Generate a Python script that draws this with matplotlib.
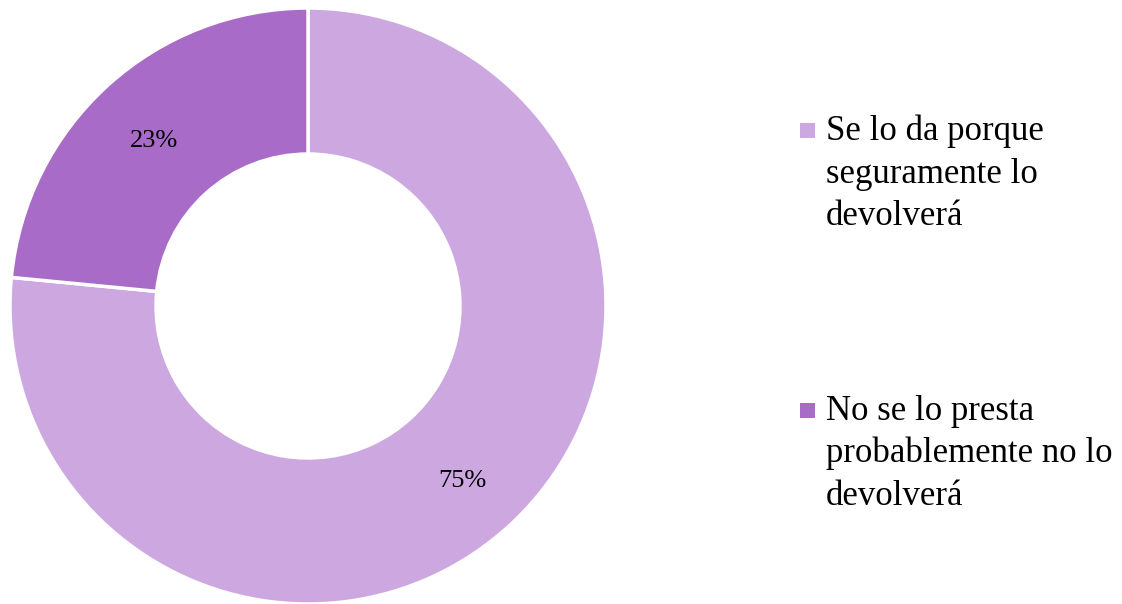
import matplotlib
matplotlib.use("Agg")
import matplotlib.pyplot as plt
import matplotlib.transforms as mtransforms
from matplotlib.patches import Rectangle

categories = ["Se lo da porque\nseguramente lo\ndevolverá",
              "No se lo presta\nprobablemente no lo\ndevolverá"]
values = [75, 23]
colors = ["#CCA7E0", "#A86BC7"]

plt.rcParams['font.family'] = ['Liberation Serif', 'DejaVu Serif']

fig = plt.figure(figsize=(11.22, 6.04), dpi=100)
W, H = 1122, 604
ax = fig.add_axes([10 / W, 0 / H, 596 / W, 596 / H])

wedges, texts, autotexts = ax.pie(
    values, colors=colors, startangle=90, counterclock=False,
    radius=1.0, pctdistance=0.77,
    autopct=lambda p: f"{p * sum(values) / 100:.0f}%",
    wedgeprops=dict(width=0.49, edgecolor="white", linewidth=2.5),
    textprops=dict(fontsize=19, color="black"))
offset = mtransforms.ScaledTranslation(0, -5 / 100, fig.dpi_scale_trans)
for t in autotexts:
    t.set_transform(t.get_transform() + offset)
ax.set_xlim(-1, 1)
ax.set_ylim(-1, 1)
ax.set_aspect("equal")
ax.axis("off")

# legend drawn manually: square aligned with first text line
block_top = [140, 420]      # baseline of first line (pixels from top)
line_step = 42.5
for cat, col, y0 in zip(categories, colors, block_top):
    fig.patches.append(Rectangle((800 / W, 1 - 137.5 / H - (y0 - 140) / H),
                                 15 / W, 15 / H, facecolor=col,
                                 edgecolor="none", transform=fig.transFigure))
    for i, line in enumerate(cat.split("\n")):
        fig.text(826 / W, 1 - (y0 + i * line_step) / H, line,
                 fontsize=25, va="baseline", ha="left", color="black")

fig.savefig("out.png", dpi=100)
